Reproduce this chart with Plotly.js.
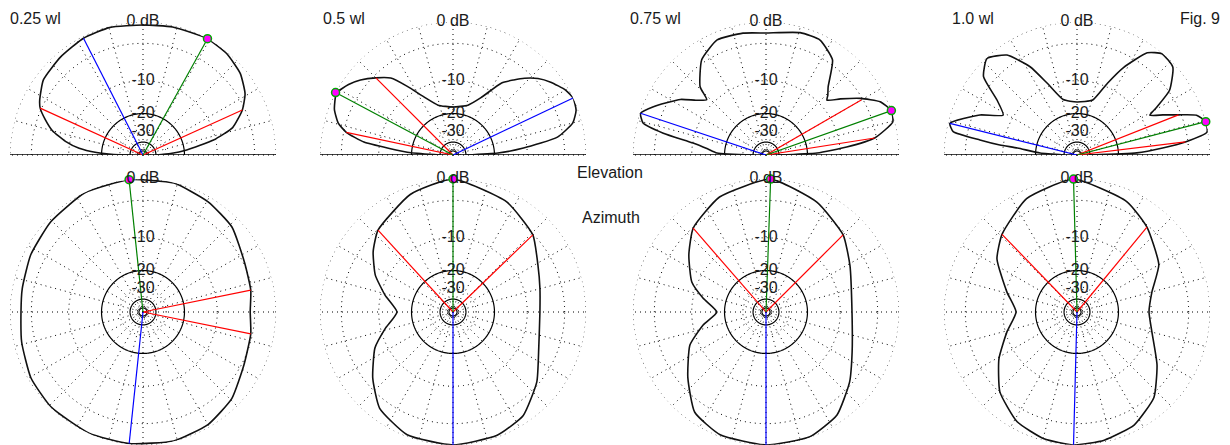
<!DOCTYPE html>
<html><head><meta charset="utf-8">
<script src="https://cdn.plot.ly/plotly-3.0.1.min.js"></script>
<style>html,body{margin:0;padding:0;overflow:hidden;background:#fff}#chart{width:1230px;height:460px}</style>
</head><body><div id="chart"></div>
<script>
// ---------- data (gain in dB vs angle in degrees) ----------
const panelLabels = ["0.25 wl", "0.5 wl", "0.75 wl", "1.0 wl"];
const ringLabels = ["0 dB", "-10", "-20", "-30"];
const ringLabelDb = [0, -10, -20, -30];

const el025_ang = [0, 3, 6.5, 12, 17, 24.4, 31, 40, 50.5, 61, 77, 90, 104.5, 117, 130, 143, 152, 155.5, 160, 165, 170, 174, 177, 179, 180];
const el025_db  = [-40, -27, -19, -10.5, -6, -3.4, -1.9, -0.8, -0.2, 0, -0.2, -0.4, -0.15, -0.25, -0.65, -1.1, -2.2, -2.8, -4.2, -6.0, -9.0, -12.5, -18, -26, -40];

const el050_ang = [0, 2.5, 5.6, 9.7, 15, 20, 25.4, 30, 36.7, 42, 47, 51, 56, 64, 73.3, 90, 106.7, 116.6, 123.5, 129, 135, 141, 146, 152, 159, 164.5, 168, 171.7, 174, 177, 180];
const el050_db  = [-40, -18.6, -10.8, -3.9, -1.2, -0.26, 0, -0.4, -1.5, -2.6, -4.06, -5.5, -7.3, -12.6, -16.1, -17.5, -16.1, -12.3, -8.3, -5.07, -3.4, -1.9, -0.93, -0.13, -0.79, -1.9, -3.4, -6.7, -12.3, -19.8, -40];

const el075_ang = [0, 2.2, 5.6, 8.9, 14.6, 19.5, 25, 31, 37, 42, 44, 47.6, 55, 64.8, 74.4, 90, 100.7, 113, 124, 134, 137, 142, 147, 157, 161.6, 165.4, 168, 170.7, 174, 177.7, 180];
const el075_db  = [-40, -16.4, -8.5, -3.26, -0.26, 0, -0.93, -3.26, -6.1, -8.3, -7.5, -6.3, -2.35, -0.79, -0.79, -1.48, -1.2, -1.06, -2.5, -5.8, -8.5, -6.9, -4.55, -1.34, -0.1, -0.79, -4.06, -10.1, -14, -17.1, -40];

const el100_ang = [0, 2, 4.7, 6.9, 10, 14.5, 18.4, 21.6, 25, 28.7, 31, 35, 42.5, 50, 55.5, 62, 67, 74, 90, 104, 112.6, 118, 125, 133, 140, 145.5, 151.6, 157.6, 166, 169.3, 171.2, 172.6, 173.3, 177, 180];
const el100_db  = [-40, -13.7, -7.5, -3.4, -0.13, 0, -0.93, -3.4, -5.8, -8.1, -6.1, -2.8, -0.39, -0.1, -1.2, -5.07, -9.16, -14.5, -15.8, -14.5, -9.16, -4.9, -1.48, -0.13, -1.48, -5.4, -7.9, -4.06, -0.26, -0.93, -5.2, -9.2, -13.7, -22, -40];

const az025_ang = [0, 11.5, 26, 43.7, 59.4, 76.5, 96, 116, 135.6, 153, 169, 180, 194, 210.5, 226, 246, 264, 283.4, 300, 315.7, 332.3, 348.5, 360];
const az025_db  = [-3.7, -3.26, -2.8, -1.34, -0.66, -0.05, 0, -0.05, -0.52, -0.93, -1.34, -1.48, -1.06, -0.39, -0.1, -0.05, -0.1, -0.05, -0.39, -1.2, -2.65, -3.26, -3.7];

const az050_ang = [0, 15, 29, 44, 64, 90, 110, 132.5, 143, 154.6, 166, 180, 194, 204.8, 219.5, 232.7, 249.5, 270, 289.7, 304.2, 320.2, 337.3, 360];
const az050_db  = [-7.3, -6.7, -5.4, -3.1, -1.41, 0, -1.06, -3.1, -4.9, -7.48, -11.0, -14.85, -11.0, -7.48, -4.22, -1.62, -0.26, 0, -0.26, -1.06, -3.4, -6.15, -7.3];

const az075_ang = [0, 29, 45, 65, 88, 112, 131, 143.5, 158, 167.5, 180, 191.7, 203.5, 220, 234.6, 249.5, 270, 289.4, 304.6, 320, 335, 360];
const az075_db  = [-7.48, -5.6, -3.4, -1.62, 0, -1.2, -3.1, -5.6, -8.72, -12.4, -17.1, -12.5, -8.1, -4.55, -1.34, -0.26, 0, -0.1, -1.06, -3.4, -5.77, -7.48];

const az100_ang = [0, 15, 30, 50.5, 65.6, 91.5, 114, 134, 146.5, 164, 180, 196, 211, 226, 241.4, 255.4, 268.5, 282, 296.8, 312, 326.5, 345, 360];
const az100_db  = [-10.53, -9.25, -5.87, -3.26, -1.62, 0, -1.2, -3.58, -5.6, -10.3, -13.4, -10.3, -6.5, -3.1, -1.06, -0.26, 0, -0.26, -0.84, -2.5, -5.6, -9.25, -10.53];

// cursor lines: max (green), reference (blue), half-power points (red)
const el_green_ang = [61, 152, 19.5, 14.5];
const el_blue_ang  = [117, 25.4, 161.6, 166];
const el_blue_db   = [-0.25, 0, -0.1, -0.26];
const el_red_ang   = [[24.4, 155.5], [135, 168], [30, 8.9], [21.6, 6.9]];
const el_red_db    = [[-3.4, -2.8], [-3.4, -3.4], [-3.26, -3.26], [-3.4, -3.4]];

const az_green_ang = [96, 90, 88, 91.5];
const az_blue_ang  = [264, 270, 270, 268.5];
const az_blue_db   = [-0.1, 0, 0, 0];
const az_red_ang   = [[11.5, 348.5], [132.5, 44], [131, 45], [134, 50.5]];
const az_red_db    = [[-3.26, -3.26], [-3.1, -3.1], [-3.1, -3.4], [-3.58, -3.26]];

// ---------- layout geometry ----------
const W = 1230, H = 460, R = 133;
const cxs = [143, 453, 766, 1077];
const cyE = 155, cyA = 312;
const FONT = "Liberation Sans, Arial, sans-serif";
const DOT = "1px,4px";

// ARRL log-periodic radial scale: radius factor 0.89 per 2 dB
function rr(db) { return Math.pow(0.89, -db / 2); }

const traces = [];
const layout = {
  width: W, height: H, margin: {l: 0, r: 0, t: 0, b: 0},
  paper_bgcolor: "#fff", showlegend: false, annotations: []
};

function range(a, b, s) { const o = []; for (let v = a; v <= b + 1e-9; v += s) o.push(v); return o; }

function addPanel(k, kind, ang, db, greenAng, blueAng, blueDb, redAng, redDb) {
  const idx = kind === "el" ? k + 1 : k + 5;
  const pid = idx === 1 ? "polar" : "polar" + idx;
  const cx = cxs[k];
  let dom;
  if (kind === "el") {
    dom = {x: [(cx - R) / W, (cx + R) / W], y: [1 - cyE / H, 1 - (cyE - R) / H]};
  } else {
    dom = {x: [(cx - R) / W, (cx + R) / W], y: [1 - (cyA + R) / H, 1 - (cyA - R) / H]};
  }
  layout[pid] = {
    domain: dom,
    sector: kind === "el" ? [0, 180] : [0, 360],
    bgcolor: "rgba(0,0,0,0)",
    radialaxis: {range: [0, 1], showgrid: false, showline: false, showticklabels: false, ticks: ""},
    angularaxis: {
      showgrid: true, gridcolor: "#000", griddash: DOT, gridwidth: 1,
      dtick: 15, tick0: 0, showticklabels: false, ticks: "", showline: false,
      rotation: 0, direction: "counterclockwise"
    }
  };
  const th = kind === "el" ? range(0, 180, 1) : range(0, 360, 1);
  // rings
  const dotted = [0, -3, -10, -30, -50];
  const solid = [-20, -40, -60];
  dotted.forEach(d => traces.push({type: "scatterpolar", subplot: pid, mode: "lines", theta: th,
    r: th.map(() => rr(d)), line: {color: "#000", width: 1, dash: DOT}, hoverinfo: "skip"}));
  solid.forEach(d => traces.push({type: "scatterpolar", subplot: pid, mode: "lines", theta: th,
    r: th.map(() => rr(d)), line: {color: "#000", width: 1.2}, hoverinfo: "skip"}));
  // ground line
  if (kind === "el") {
    traces.push({type: "scatterpolar", subplot: pid, mode: "lines", theta: [0, 180], r: [1, 1],
      line: {color: "#000", width: 1.5}, cliponaxis: false, hoverinfo: "skip"});
  }
  // pattern
  traces.push({type: "scatterpolar", subplot: pid, mode: "lines", theta: ang, r: db.map(rr),
    line: {color: "#111", width: 1.6, shape: "spline", smoothing: 0.5}, cliponaxis: false});
  // red lines
  redAng.forEach((a, i) => traces.push({type: "scatterpolar", subplot: pid, mode: "lines",
    theta: [a, a], r: [0, rr(redDb[i])], line: {color: "#ff0000", width: 1.2}}));
  // blue line
  traces.push({type: "scatterpolar", subplot: pid, mode: "lines", theta: [blueAng, blueAng],
    r: [0, rr(blueDb)], line: {color: "#0000ff", width: 1.2}, cliponaxis: false});
  // green line with magenta marker
  traces.push({type: "scatterpolar", subplot: pid, mode: "lines", theta: [greenAng, greenAng],
    r: [0, rr(0)], line: {color: "#008000", width: 1.2}, cliponaxis: false});
  traces.push({type: "scatterpolar", subplot: pid, mode: "markers", theta: [greenAng], r: [rr(0)],
    marker: {color: "#ff00ff", size: 8, symbol: "circle", line: {color: "#00aa00", width: 1.5}}, cliponaxis: false});
  // ring labels
  traces.push({type: "scatterpolar", subplot: pid, mode: "text", theta: ringLabelDb.map(() => 90),
    r: ringLabelDb.map(rr), text: ringLabels, textposition: "middle center",
    textfont: {family: FONT, size: 16, color: "#1a1a1a"}, cliponaxis: false, hoverinfo: "skip"});
}

const elAng = [el025_ang, el050_ang, el075_ang, el100_ang];
const elDb = [el025_db, el050_db, el075_db, el100_db];
const azAng = [az025_ang, az050_ang, az075_ang, az100_ang];
const azDb = [az025_db, az050_db, az075_db, az100_db];

for (let k = 0; k < 4; k++) {
  addPanel(k, "el", elAng[k], elDb[k], el_green_ang[k], el_blue_ang[k], el_blue_db[k], el_red_ang[k], el_red_db[k]);
}
for (let k = 0; k < 4; k++) {
  addPanel(k, "az", azAng[k], azDb[k], az_green_ang[k], az_blue_ang[k], az_blue_db[k], az_red_ang[k], az_red_db[k]);
}

function ann(text, px, py, xanchor) {
  layout.annotations.push({text: text, x: px / W, y: 1 - py / H, xref: "paper", yref: "paper",
    xanchor: xanchor, yanchor: "middle", showarrow: false, font: {family: FONT, size: 16, color: "#1a1a1a"}});
}
const labelX = [8, 321, 628, 950];
panelLabels.forEach((t, i) => ann(t, labelX[i], 18, "left"));
ann("Fig. 9", 1222, 18, "right");
ann("Elevation", 610, 173, "center");
ann("Azimuth", 611, 218, "center");

Plotly.newPlot("chart", traces, layout, {staticPlot: true, displayModeBar: false});
</script>
</body></html>
